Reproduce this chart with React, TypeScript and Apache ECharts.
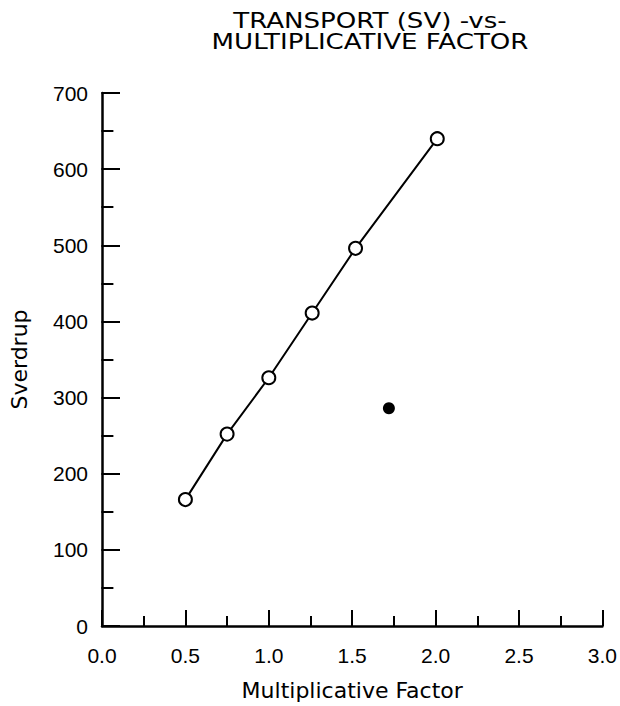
import React, { useEffect, useRef } from "react";
import * as echarts from "echarts";

const titleLines = ["TRANSPORT (SV) -vs-", "MULTIPLICATIVE FACTOR"];
const xName = "Multiplicative Factor";
const yName = "Sverdrup";
const lineX = [0.5, 0.75, 1.0, 1.26, 1.52, 2.01];
const lineY = [166, 252, 326, 411, 496, 640];
const filledX = [1.72];
const filledY = [286];

export default function App() {
  const ref = useRef<HTMLDivElement>(null);
  useEffect(() => {
    if (!ref.current) return;
    const chart = echarts.init(ref.current, null, { renderer: "svg" });
    const numFont = "'Liberation Sans', Arial, Helvetica, sans-serif";
    const txtFont = "'DejaVu Sans', 'Liberation Sans', sans-serif";
    chart.setOption({
      animation: false,
      backgroundColor: "#fff",
      graphic: titleLines.map((t, i) => ({
        type: "text",
        x: 370,
        y: 21 + i * 20.5,
        scaleX: 1.185,
        style: {
          text: t,
          fontFamily: txtFont,
          fontSize: 22,
          fill: "#000",
          textAlign: "center",
          textVerticalAlign: "middle",
        },
      })),
      grid: { left: 102, right: 17, top: 93, bottom: 80 },
      xAxis: [
        {
          type: "value",
          min: 0,
          max: 3,
          interval: 0.5,
          name: xName,
          nameLocation: "middle",
          nameGap: 53,
          nameTextStyle: { fontFamily: txtFont, fontSize: 22, color: "#000" },
          axisLine: { lineStyle: { color: "#000", width: 2.5 } },
          axisTick: { inside: true, length: 16, lineStyle: { color: "#000", width: 2 } },
          splitLine: { show: false },
          axisLabel: {
            fontFamily: numFont, fontSize: 21, color: "#000", margin: 19,
            formatter: (v: number) => v.toFixed(1),
          },
          z: 3,
        },
        {
          type: "value",
          position: "bottom",
          min: 0,
          max: 3,
          interval: 0.25,
          axisLine: { show: false },
          axisLabel: { show: false },
          splitLine: { show: false },
          axisTick: { show: true, inside: true, length: 10, lineStyle: { color: "#000", width: 2 } },
        },
      ],
      yAxis: [
        {
          type: "value",
          min: 0,
          max: 700,
          interval: 100,
          name: yName,
          nameLocation: "middle",
          nameGap: 72,
          nameRotate: 90,
          nameTextStyle: { fontFamily: txtFont, fontSize: 22, color: "#000" },
          axisLine: { show: true, lineStyle: { color: "#000", width: 2.5 } },
          axisTick: { show: true, inside: true, length: 18, lineStyle: { color: "#000", width: 2 } },
          splitLine: { show: false },
          axisLabel: { fontFamily: numFont, fontSize: 21, color: "#000", margin: 14 },
          z: 3,
        },
        {
          type: "value",
          position: "right",
          offset: -501,
          min: 0,
          max: 700,
          interval: 50,
          axisLine: { show: false, onZero: false },
          axisLabel: { show: false },
          splitLine: { show: false },
          axisTick: { show: true, inside: false, length: 12, lineStyle: { color: "#000", width: 2 } },
        },
      ],
      series: [
        {
          type: "line",
          xAxisIndex: 0,
          yAxisIndex: 0,
          data: lineX.map((x, i) => [x, lineY[i]]),
          symbol: "circle",
          symbolSize: 13,
          lineStyle: { color: "#000", width: 2 },
          itemStyle: { color: "#fff", borderColor: "#000", borderWidth: 2 },
          z: 3,
        },
        {
          type: "scatter",
          xAxisIndex: 0,
          yAxisIndex: 0,
          data: filledX.map((x, i) => [x, filledY[i]]),
          symbol: "circle",
          symbolSize: 12,
          itemStyle: { color: "#000", opacity: 1 },
        },
      ],
    });
    return () => chart.dispose();
  }, []);
  return <div ref={ref} style={{ width: 620, height: 706, position: "absolute", left: 0, top: 0 }} />;
}
